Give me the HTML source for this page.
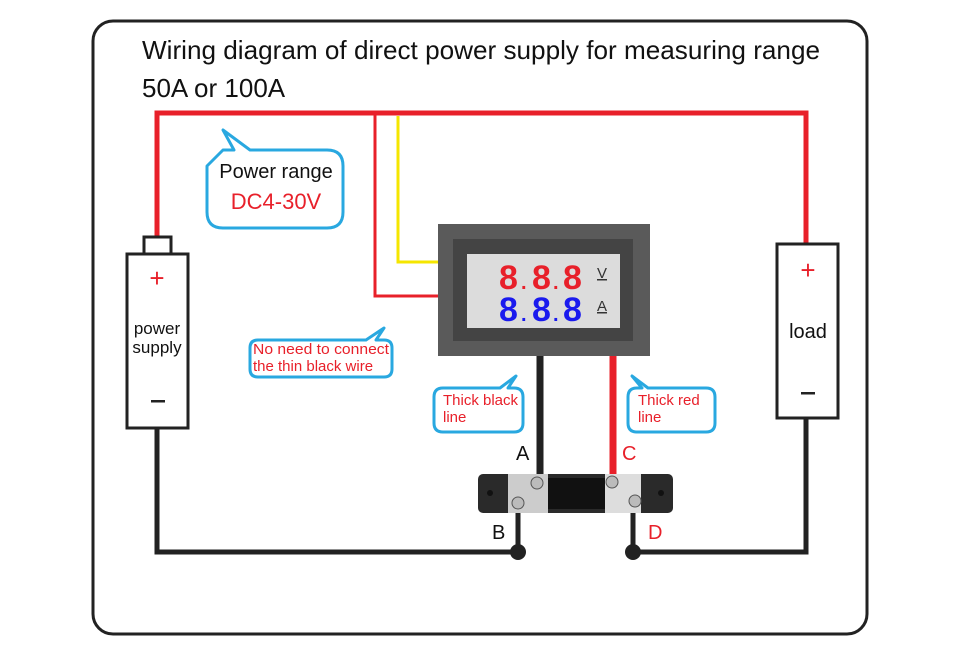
<!DOCTYPE html>
<html><head><meta charset="utf-8"><style>
html,body{margin:0;padding:0;background:#fff;width:960px;height:658px;overflow:hidden}
svg{display:block}
text{font-family:"Liberation Sans","DejaVu Sans",sans-serif}
</style></head><body>
<svg width="960" height="658" viewBox="0 0 960 658" xmlns="http://www.w3.org/2000/svg">
<rect x="93" y="21" width="774" height="613" rx="20" fill="#fff" stroke="#222" stroke-width="3"/>
<text x="142" y="59" font-size="26" fill="#111" textLength="678" lengthAdjust="spacingAndGlyphs">Wiring diagram of direct power supply for measuring range</text>
<text x="142" y="97" font-size="26" fill="#111">50A or 100A</text>

<!-- wires -->
<polyline points="157,237 157,113 806,113 806,243" fill="none" stroke="#e8202a" stroke-width="5"/>
<polyline points="375,113 375,296 438,296" fill="none" stroke="#e8202a" stroke-width="3"/>
<polyline points="398,116 398,262 438,262" fill="none" stroke="#f5e600" stroke-width="3"/>
<polyline points="157,428 157,552 518,552 518,513" fill="none" stroke="#222" stroke-width="5"/>
<polyline points="806,418 806,552 633,552 633,513" fill="none" stroke="#222" stroke-width="5"/>
<line x1="540" y1="356" x2="540" y2="476" stroke="#222" stroke-width="7"/>
<line x1="613" y1="356" x2="613" y2="476" stroke="#e8202a" stroke-width="7"/>
<circle cx="518" cy="552" r="8" fill="#222"/>
<circle cx="633" cy="552" r="8" fill="#222"/>

<!-- battery -->
<rect x="144" y="237" width="27" height="17" fill="#fff" stroke="#222" stroke-width="3"/>
<rect x="127" y="254" width="61" height="174" fill="#fff" stroke="#222" stroke-width="3"/>
<text x="157" y="287" font-size="26" fill="#e8202a" text-anchor="middle">+</text>
<text x="157" y="334" font-size="17" fill="#111" text-anchor="middle">power</text>
<text x="157" y="353" font-size="17" fill="#111" text-anchor="middle">supply</text>
<rect x="151" y="400" width="14" height="2.5" fill="#222"/>

<!-- load -->
<rect x="777" y="244" width="61" height="174" fill="#fff" stroke="#222" stroke-width="3"/>
<text x="808" y="279" font-size="26" fill="#e8202a" text-anchor="middle">+</text>
<text x="808" y="338" font-size="20" fill="#111" text-anchor="middle">load</text>
<rect x="801" y="392" width="14" height="2.5" fill="#222"/>

<!-- meter -->
<rect x="438" y="224" width="212" height="132" fill="#5a5a5a"/>
<rect x="453" y="239" width="180" height="102" fill="#444"/>
<rect x="467" y="254" width="153" height="74" fill="#dcdcdc"/>
<g font-family="Liberation Mono" font-weight="bold" font-size="34">
<text x="499" y="289" fill="#e8202a">8</text><text x="521" y="289" fill="#e8202a" font-size="20">.</text>
<text x="532" y="289" fill="#e8202a">8</text><text x="553" y="289" fill="#e8202a" font-size="20">.</text>
<text x="563" y="289" fill="#e8202a">8</text>
<text x="499" y="321" fill="#1a1aee">8</text><text x="521" y="321" fill="#1a1aee" font-size="20">.</text>
<text x="532" y="321" fill="#1a1aee">8</text><text x="553" y="321" fill="#1a1aee" font-size="20">.</text>
<text x="563" y="321" fill="#1a1aee">8</text>
</g>
<text x="597" y="278" font-size="15" fill="#333" text-decoration="underline">V</text>
<text x="597" y="311" font-size="15" fill="#333" text-decoration="underline">A</text>

<!-- shunt -->
<rect x="478" y="474" width="195" height="39" rx="5" fill="#2a2a2a"/>
<rect x="508" y="474" width="40" height="39" fill="#ccc"/>
<rect x="605" y="474" width="36" height="39" fill="#ddd"/>
<rect x="548" y="478" width="57" height="31" fill="#111"/>
<circle cx="537" cy="483" r="6" fill="#bbb" stroke="#555"/>
<circle cx="518" cy="503" r="6" fill="#bbb" stroke="#555"/>
<circle cx="612" cy="482" r="6" fill="#bbb" stroke="#555"/>
<circle cx="635" cy="501" r="6" fill="#bbb" stroke="#555"/>
<circle cx="490" cy="493" r="3" fill="#111"/>
<circle cx="661" cy="493" r="3" fill="#111"/>
<text x="516" y="460" font-size="20" fill="#111">A</text>
<text x="622" y="460" font-size="20" fill="#e8202a">C</text>
<text x="492" y="539" font-size="20" fill="#111">B</text>
<text x="648" y="539" font-size="20" fill="#e8202a">D</text>

<!-- bubbles -->
<g fill="#fff" stroke="#29a8e0" stroke-width="3" stroke-linejoin="round">
<path d="M223,150 L207,166 L207,212 Q207,228 223,228 L327,228 Q343,228 343,212 L343,166 Q343,150 327,150 L250,150 L223,130 L234,150 Z"/>
<path d="M258,340 Q250,340 250,348 L250,369 Q250,377 258,377 L384,377 Q392,377 392,369 L392,348 Q392,340 384,340 L376,340 L384,328 L366,340 Z"/>
<path d="M443,388 Q434,388 434,397 L434,423 Q434,432 443,432 L514,432 Q523,432 523,423 L523,397 Q523,388 514,388 L508,388 L516,376 L500,388 Z"/>
<path d="M637,388 Q628,388 628,397 L628,423 Q628,432 637,432 L706,432 Q715,432 715,423 L715,397 Q715,388 706,388 L648,388 L632,376 L642,388 Z"/>
</g>
<text x="276" y="178" font-size="20" fill="#111" text-anchor="middle">Power range</text>
<text x="276" y="209" font-size="22" fill="#e8202a" text-anchor="middle">DC4-30V</text>
<text x="253" y="354" font-size="15" fill="#e8202a" textLength="136" lengthAdjust="spacingAndGlyphs">No need to connect</text>
<text x="253" y="371" font-size="15" fill="#e8202a">the thin black wire</text>
<text x="443" y="405" font-size="15" fill="#e8202a">Thick black</text>
<text x="443" y="422" font-size="15" fill="#e8202a">line</text>
<text x="638" y="405" font-size="15" fill="#e8202a">Thick red</text>
<text x="638" y="422" font-size="15" fill="#e8202a">line</text>
</svg>
</body></html>
